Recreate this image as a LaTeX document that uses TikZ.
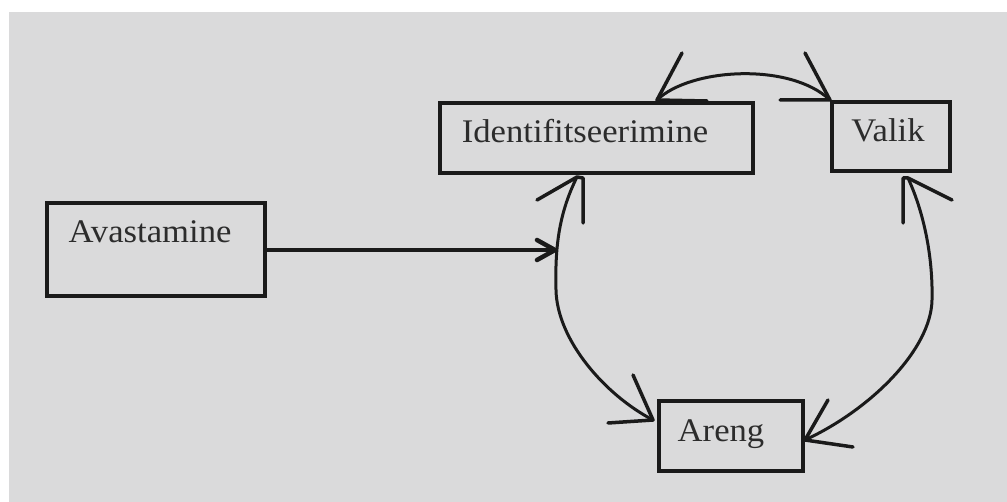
\documentclass[tikz,border=0pt]{standalone}
\usepackage{fontspec}
\setmainfont[FakeStretch=1.05]{Liberation Serif}
\definecolor{bg}{HTML}{DADADB}
\definecolor{ink}{HTML}{1A1A1A}
\definecolor{txt}{HTML}{2C2C2C}
\begin{document}
\begin{tikzpicture}[x=1pt,y=-1pt,
  box/.style={draw=ink,line width=4.5pt,fill=bg,inner sep=0pt},
  lbl/.style={text=txt,font=\fontsize{33}{36}\selectfont,inner sep=0pt,anchor=base},
  arcline/.style={draw=ink,line width=3pt},
  barb/.style={draw=ink,line width=3.5pt,line cap=round,line join=round}]
\useasboundingbox (0,0) rectangle (1007,502);
\fill[white] (0,0) rectangle (1007,502);
\fill[bg] (9,12) rectangle (1007,502);

% boxes
\node[box,minimum width=218pt,minimum height=93pt] (avb) at (156,249.5) {};
\node[box,minimum width=313pt,minimum height=70pt] (idb) at (596.5,138) {};
\node[box,minimum width=118pt,minimum height=69pt] (vab) at (891,136.5) {};
\node[box,minimum width=144pt,minimum height=70pt] (arb) at (731,436) {};

% labels
\node[lbl] (avt) at (150,243) {Avastamine};
\node[lbl] (idt) at (585,143) {Identifitseerimine};
\node[lbl] (vat) at (888,142) {Valik};
\node[lbl] (art) at (721,442) {Areng};

% tip coordinates
\coordinate (ain) at (555,250);
\coordinate (tl) at (657,100);
\coordinate (tr) at (830,100);
\coordinate (il) at (577,177);
\coordinate (al) at (653,420);
\coordinate (vr) at (908,178);
\coordinate (ar) at (805,440);

% straight arrow
\draw[draw=ink,line width=4.5pt] (avb.east |- ain) -- (ain);
\draw[barb,line width=4.5pt] (537,240) -- (ain) -- (537,260);

% top arc
\draw[arcline] (tl) .. controls (690,68) and (790,62) .. (tr);
\draw[barb] (682,53) -- (tl) -- (707,101);
\draw[barb] (805,53) -- (tr) -- (780,100);

% left arc
\draw[arcline] (il) .. controls (558,215) and (555,250) .. (556,290)
  .. controls (557,340) and (605,395) .. (al);
\draw[barb] (537,200) -- (il) -- (583,178) -- (583,223);
\draw[barb] (633,375) -- (al) -- (608,423);

% right arc
\draw[arcline] (vr) .. controls (925,215) and (933,260) .. (932,300)
  .. controls (931,350) and (870,410) .. (ar);
\draw[barb] (903,223) -- (903,178) -- (vr) -- (952,200);
\draw[barb] (828,400) -- (ar) -- (853,447);
\end{tikzpicture}
\end{document}
